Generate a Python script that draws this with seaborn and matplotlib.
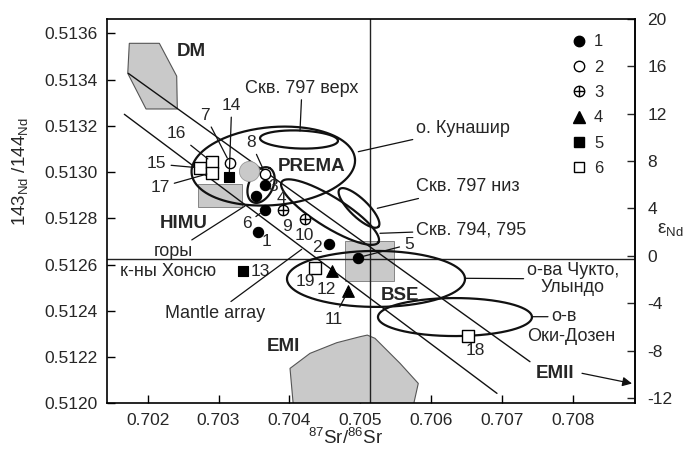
import numpy as np
import pandas as pd
import matplotlib
matplotlib.use("Agg")
import matplotlib.pyplot as plt
import seaborn as sns
from matplotlib.lines import Line2D
from matplotlib.patches import Polygon, Rectangle

# ---------------- data ----------------
# group 1 (filled circles)
sr_1 = [0.70356, 0.70456, 0.70365, 0.70353, 0.70365, 0.70497]
nd_1 = [0.512742, 0.512688, 0.512944, 0.512898, 0.512836, 0.512630]
# group 2 (open circles)
sr_2 = [0.70316, 0.70366]
nd_2 = [0.513039, 0.512992]
# group 3 (crossed circles)
sr_3 = [0.70391, 0.70422]
nd_3 = [0.512836, 0.512796]
# group 4 (triangles)
sr_4 = [0.70460, 0.70483]
nd_4 = [0.512573, 0.512486]
# group 5 (filled squares)
sr_5 = [0.70315, 0.70335]
nd_5 = [0.512977, 0.512572]
# group 6 (open squares)
sr_6 = [0.70274, 0.70291, 0.70291, 0.70436, 0.70652]
nd_6 = [0.513018, 0.513042, 0.512998, 0.512586, 0.512292]
# grey circle (no group)
sr_grey = [0.70343]
nd_grey = [0.513006]

# mantle reservoirs
dm_sr = [0.701740, 0.702164, 0.702409, 0.702418, 0.701976, 0.701718]
dm_nd = [0.513557, 0.513557, 0.513415, 0.513273, 0.513273, 0.513427]
emi_sr = [0.704056, 0.704009, 0.704291, 0.704668, 0.704997, 0.705100,
          0.705209, 0.705562, 0.705820, 0.705750]
emi_nd = [0.511990, 0.512151, 0.512216, 0.512262, 0.512288, 0.512295,
          0.512281, 0.512173, 0.512086, 0.511990]
himu_sr = [0.702706, 0.703336]
himu_nd = [0.512851, 0.512947]
bse_sr = [0.704790, 0.705473]
bse_nd = [0.512529, 0.512703]

# mantle array lines
lineA_sr = [0.701726, 0.707397]
lineA_nd = [0.513427, 0.512180]
lineB_sr = [0.701670, 0.706931]
lineB_nd = [0.513250, 0.512043]

# reference lines
chur_nd = 0.512625
bse_sr_line = 0.705138

# fields (ellipses): centre (data), semi-axes (px), tilt (deg)
field_cx = [0.703773, 0.704136, 0.703600, 0.704983, 0.704574, 0.705223, 0.706338]
field_cy = [0.513026, 0.513141, 0.512944, 0.512845, 0.512827, 0.512538, 0.512373]
field_a = [82, 39, 19, 27, 57, 89, 77]
field_b = [39, 9, 12, 9, 15, 28, 19]
field_ang = [5, -2, 64, -44, -32, 0, 0]

legend_labels = ["1", "2", "3", "4", "5", "6"]
x_ticks = [0.702, 0.703, 0.704, 0.705, 0.706, 0.707, 0.708]
y_ticks = [0.5120, 0.5122, 0.5124, 0.5126, 0.5128, 0.5130, 0.5132, 0.5134, 0.5136]
eps_ticks = [-12, -8, -4, 0, 4, 8, 12, 16, 20]

# ---------------- style ----------------
sns.set_theme(style="ticks")
plt.rcParams["font.family"] = ["Liberation Sans", "DejaVu Sans"]
plt.rcParams["mathtext.fontset"] = "custom"
plt.rcParams["mathtext.rm"] = "Liberation Sans"
plt.rcParams["mathtext.it"] = "Liberation Sans:italic"
plt.rcParams["mathtext.bf"] = "Liberation Sans:bold"

CHUR = 0.512638
W, H = 688, 459
fig = plt.figure(figsize=(W / 100, H / 100), dpi=100)
ax = fig.add_axes([107 / W, (H - 403.3) / H, 528 / W, 384.6 / H])
ax.set_xlim(0.701425, 0.708880)
ax.set_ylim(0.5120, CHUR * 1.002 + 2e-7)

GREY = "#c9c9c9"
FS = 12.5


def P(px, py):
    s = fig.dpi / 100
    return tuple(ax.transData.inverted().transform((px * s, (H - py) * s)))


def ellipse_xy(cx, cy, a, b, ang, n=300):
    s = fig.dpi / 100
    t = np.linspace(0, 2 * np.pi, n)
    th = np.deg2rad(ang)
    u, v = a * np.cos(t) * s, b * np.sin(t) * s
    dx = u * np.cos(th) - v * np.sin(th)
    dy = u * np.sin(th) + v * np.cos(th)
    c = ax.transData.transform((cx, cy))
    pts = np.column_stack([c[0] + dx, c[1] + dy])
    return ax.transData.inverted().transform(pts)


# grey fields
ax.add_patch(Polygon(np.column_stack([dm_sr, dm_nd]), closed=True,
                     facecolor=GREY, edgecolor="#555555", lw=0.8, zorder=1))
ax.add_patch(Polygon(np.column_stack([emi_sr, emi_nd]), closed=True,
                     facecolor=GREY, edgecolor="#555555", lw=0.8, zorder=1))
ax.add_patch(Rectangle((himu_sr[0], himu_nd[0]), himu_sr[1] - himu_sr[0],
                       himu_nd[1] - himu_nd[0], facecolor=GREY,
                       edgecolor="#777777", lw=0.6, zorder=1))
ax.add_patch(Rectangle((bse_sr[0], bse_nd[0]), bse_sr[1] - bse_sr[0],
                       bse_nd[1] - bse_nd[0], facecolor=GREY,
                       edgecolor="#777777", lw=0.6, zorder=1))

# reference lines
ax.axhline(chur_nd, color="#222222", lw=1.0, zorder=2)
ax.axvline(bse_sr_line, color="#222222", lw=1.0, zorder=2)

# mantle array
sns.lineplot(x=lineA_sr, y=lineA_nd, sort=False, color="#111111", lw=1.0, ax=ax, zorder=2)
sns.lineplot(x=lineB_sr, y=lineB_nd, sort=False, color="#111111", lw=1.0, ax=ax, zorder=2)

# ellipses
for cx, cy, a, b, ang in zip(field_cx, field_cy, field_a, field_b, field_ang):
    e = ellipse_xy(cx, cy, a, b, ang)
    ax.plot(e[:, 0], e[:, 1], color="#111111", lw=1.6, zorder=3)

# points
S = 55
sns.scatterplot(x=sr_grey, y=nd_grey, s=210, color=GREY, edgecolor="#999999",
                linewidth=0.6, ax=ax, zorder=4)
sns.scatterplot(x=sr_1, y=nd_1, marker="o", s=S, color="black", edgecolor="black",
                linewidth=0.8, ax=ax, zorder=5)
sns.scatterplot(x=sr_2, y=nd_2, marker="o", s=S, color="white", edgecolor="black",
                linewidth=1.0, ax=ax, zorder=5)
sns.scatterplot(x=sr_3, y=nd_3, marker="o", s=S, color="white", edgecolor="black",
                linewidth=1.0, ax=ax, zorder=5)
sns.scatterplot(x=sr_3, y=nd_3, marker="+", s=S, color="black",
                linewidth=1.0, ax=ax, zorder=6)
sns.scatterplot(x=sr_4, y=nd_4, marker="^", s=S + 15, color="black", edgecolor="black",
                linewidth=0.8, ax=ax, zorder=5)
sns.scatterplot(x=sr_5, y=nd_5, marker="s", s=S, color="black", edgecolor="black",
                linewidth=0.8, ax=ax, zorder=5)
sns.scatterplot(x=sr_6, y=nd_6, marker="s", s=S + 20, color="white", edgecolor="black",
                linewidth=1.0, ax=ax, zorder=5)

# sample numbers (text, pixel anchor, target point or None)
lead = dict(arrowstyle="-", color="#111111", lw=0.9, shrinkA=1, shrinkB=4)
point_labels = [
    ("1", (266.7, 241), None), ("2", (317, 247.5), None),
    ("3", (273, 186), None), ("4", (281, 198.5), None),
    ("5", (409, 244.5), (sr_1[5], nd_1[5])),
    ("6", (246.7, 223.5), (sr_1[4], nd_1[4])),
    ("7", (205, 115), (sr_2[0], nd_2[0])),
    ("8", (251, 142.3), (sr_2[1], nd_2[1])),
    ("9", (286.7, 226.7), None), ("10", (304, 235.5), None),
    ("11", (333.3, 319), (sr_4[1], nd_4[1])),
    ("12", (326.7, 290), None), ("13", (260, 271), None),
    ("14", (231.7, 105), (sr_5[0], nd_5[0])),
    ("15", (156.7, 164), (sr_6[0], nd_6[0])),
    ("16", (176.7, 134), (sr_6[1], nd_6[1])),
    ("17", (160, 187.3), (sr_6[2], nd_6[2])),
    ("18", (475, 350.7), None), ("19", (305, 281), None),
]
for txt, pos, tgt in point_labels:
    if tgt is None:
        ax.text(*P(*pos), txt, fontsize=FS, ha="center", va="center", zorder=7)
    else:
        ax.annotate(txt, xy=tgt, xytext=P(*pos), fontsize=FS, ha="center",
                    va="center", arrowprops=lead, zorder=7)

# reservoir names
for txt, pos in [("DM", (191.7, 51.7)), ("HIMU", (183.3, 223.3)),
                 ("PREMA", (311.7, 166)), ("BSE", (400, 295)),
                 ("EMI", (283.3, 346.7)), ("EMII", (555, 373.3))]:
    ax.text(*P(*pos), txt, fontsize=13.5, fontweight="bold", ha="center",
            va="center", zorder=7)

lead2 = dict(arrowstyle="-", color="#111111", lw=0.9, shrinkA=0, shrinkB=0)
# field annotations
ax.annotate("Скв. 797 верх", xy=P(300, 131), xytext=P(302, 88), fontsize=13,
            ha="center", va="center", arrowprops=lead2, zorder=7)
ax.annotate("о. Кунашир", xy=P(358.3, 151.7), xytext=P(416, 128.3), fontsize=13,
            ha="left", va="center", arrowprops=lead2, zorder=7)
ax.annotate("Скв. 797 низ", xy=P(377.3, 208.3), xytext=P(416, 186.7), fontsize=13,
            ha="left", va="center", arrowprops=lead2, zorder=7)
ax.annotate("Скв. 794, 795", xy=P(380, 233.3), xytext=P(416, 230), fontsize=13,
            ha="left", va="center", arrowprops=lead2, zorder=7)
ax.annotate("о-ва Чукто,\nУлындо", xy=P(465, 278.3), xytext=P(573, 279),
            fontsize=13, ha="center", va="center", multialignment="center",
            linespacing=1.0, arrowprops=lead2, zorder=7)
ax.annotate("о-в", xy=P(531.7, 316.7), xytext=P(564, 316.7), fontsize=13,
            ha="center", va="center", arrowprops=lead2, zorder=7)
ax.text(*P(571, 336.7), "Оки-Дозен", fontsize=13, ha="center", va="center", zorder=7)
ax.annotate("горы", xy=P(245, 206), xytext=P(173.3, 251.7), fontsize=13,
            ha="center", va="center", arrowprops=lead2, zorder=7)
ax.text(*P(120, 271), "к-ны Хонсю", fontsize=13, ha="left", va="center", zorder=7)
ax.annotate("Mantle array", xy=P(301.7, 249.3), xytext=P(215, 313.3), fontsize=13,
            ha="center", va="center", arrowprops=lead2, zorder=7)
ax.annotate("", xy=P(632, 383.5), xytext=P(582, 373.3),
            arrowprops=dict(arrowstyle="-|>", color="#111111", lw=0.9,
                            mutation_scale=14, shrinkA=0, shrinkB=0), zorder=7)

# legend
h_fill_c = Line2D([], [], ls="", marker="o", ms=7.5, mfc="black", mec="black")
h_open_c = Line2D([], [], ls="", marker="o", ms=7.5, mfc="white", mec="black", mew=1)
h_plus = Line2D([], [], ls="", marker="+", ms=7.5, mec="black", mew=1)
h_tri = Line2D([], [], ls="", marker="^", ms=8, mfc="black", mec="black")
h_fsq = Line2D([], [], ls="", marker="s", ms=7, mfc="black", mec="black")
h_osq = Line2D([], [], ls="", marker="s", ms=7.5, mfc="white", mec="black", mew=1)
handles = [h_fill_c, h_open_c, (h_open_c, h_plus), h_tri, h_fsq, h_osq]
ax.legend(handles, legend_labels, loc="upper left",
          bbox_to_anchor=((570.7 - 107) / 528, (403.3 - 34.5) / 384.6),
          frameon=False, fontsize=12, handlelength=1.0, handletextpad=0.4,
          labelspacing=0.62, borderpad=0, borderaxespad=0)

# axes styling
ax.set_xticks(x_ticks)
ax.set_xticklabels([f"{v:.3f}" for v in x_ticks])
ax.set_yticks(y_ticks)
ax.set_yticklabels([f"{v:.4f}" for v in y_ticks])
ax.tick_params(direction="in", length=6, width=1.0, labelsize=12.5, color="black",
               pad=7)
for sp in ax.spines.values():
    sp.set_visible(True)
    sp.set_color("black")
    sp.set_linewidth(1.2)

sec = ax.secondary_yaxis("right", functions=(lambda y: (y / CHUR - 1) * 1e4,
                                              lambda e: CHUR * (1 + e / 1e4)))
sec.set_yticks(eps_ticks)
sec.set_yticklabels([str(v) for v in eps_ticks])
sec.tick_params(direction="in", length=6, width=1.0, labelsize=12.5, pad=9)
sec.spines["right"].set_linewidth(1.2)

ax.set_xlabel(r"$^{87}$Sr/$^{86}$Sr", fontsize=13.5)
ax.xaxis.set_label_coords((345 - 107) / 528, (403.3 - 428) / 384.6)
ax.set_ylabel(r"143$_{\mathrm{Nd}}$ /144$_{\mathrm{Nd}}$", fontsize=13.5)
ax.yaxis.set_label_coords((30 - 107) / 528, (403.3 - 172) / 384.6)
fig.text(670 / W, 1 - 230 / H, r"ε$_{\mathrm{Nd}}$", fontsize=13.5,
         ha="center", va="center")

fig.savefig("out.png", dpi=100)
